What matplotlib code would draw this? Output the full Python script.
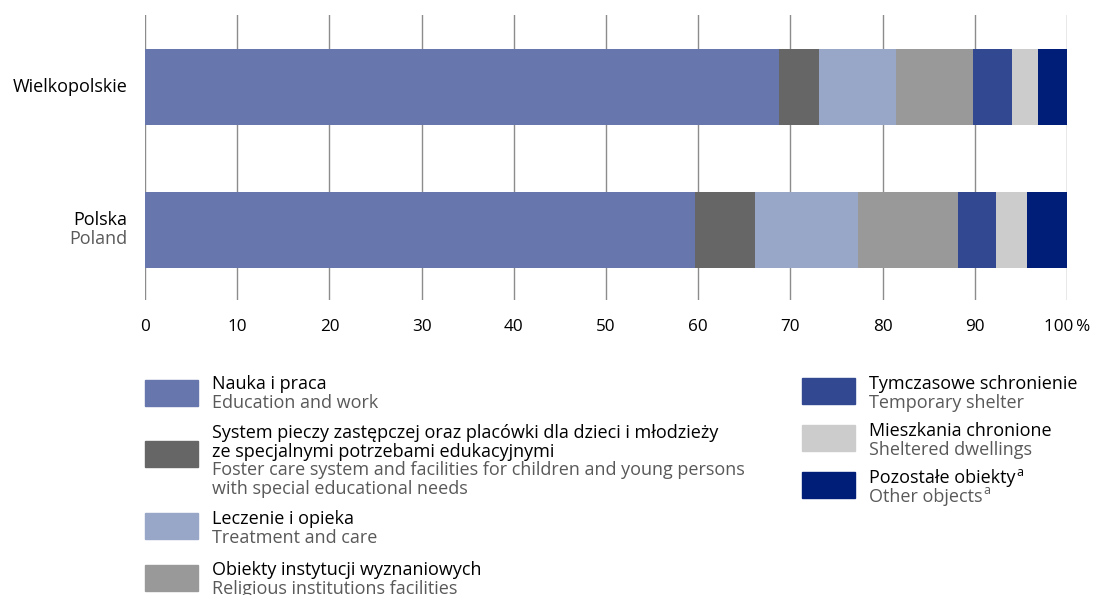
import matplotlib.pyplot as plt
from matplotlib.patches import Rectangle

plt.rcParams['font.family'] = ['Open Sans', 'DejaVu Sans']

regions = ["Wielkopolskie", "Polska"]
regions_en = ["", "Poland"]

cat_pl = ["Nauka i praca",
          "System pieczy zastępczej oraz placówki dla dzieci i młodzieży\nze specjalnymi potrzebami edukacyjnymi",
          "Leczenie i opieka",
          "Obiekty instytucji wyznaniowych",
          "Tymczasowe schronienie",
          "Mieszkania chronione",
          "Pozostałe obiekty"]
cat_en = ["Education and work",
          "Foster care system and facilities for children and young persons\nwith special educational needs",
          "Treatment and care",
          "Religious institutions facilities",
          "Temporary shelter",
          "Sheltered dwellings",
          "Other objects"]
footnote = [None, None, None, None, None, None, "a"]

wielkopolskie = [68.8, 4.3, 8.4, 8.3, 4.2, 2.9, 3.1]
polska = [59.7, 6.5, 11.1, 10.9, 4.1, 3.4, 4.3]

colors = ["#6777ae", "#666666", "#98a6c8", "#999999", "#324891", "#cccccc", "#001d77"]

ticks = [0, 10, 20, 30, 40, 50, 60, 70, 80, 90, 100]
tick_labels = ["0", "10", "20", "30", "40", "50", "60", "70", "80", "90", "100\u2009%"]

W, H = 1099, 595
fs = 13
fig = plt.figure(figsize=(W / 100, H / 100), dpi=100)
ax = fig.add_axes([145 / W, 1 - 300 / H, (1067 - 145) / W, 285 / H])

for t in ticks:
    ax.axvline(t, color="#8c8c8c", lw=1, zorder=0)

data = [wielkopolskie, polska]
for i, vals in enumerate(data):
    left = 0
    for v, c in zip(vals, colors):
        ax.barh(i, v, left=left, height=0.53, color=c, zorder=2)
        left += v

ax.set_xlim(0, 100)
ax.set_ylim(1.49, -0.503)
for s in ax.spines.values():
    s.set_visible(False)
ax.set_yticks([])
ax.set_xticks(ticks)
ax.set_xticklabels(tick_labels, fontsize=12.3)
ax.tick_params(axis="x", length=0, pad=14)

# region labels
ax.text(-1.9, 0, regions[0], ha="right", va="center", fontsize=fs, color="black")
ax.text(-1.9, 0.93, regions[1], ha="right", va="center", fontsize=fs, color="black")
ax.text(-1.9, 1.065, regions_en[1], ha="right", va="center", fontsize=fs, color="#595959")

# legend
def fx(x):
    return x / W

def fy(y):
    return 1 - y / H

renderer = fig.canvas.get_renderer()
items = [(145, 212, 380, 382), (145, 212, 441, 431), (145, 212, 513, 517), (145, 212, 565, 568),
         (802, 869, 378, 382), (802, 869, 425, 429), (802, 869, 472, 476)]
for k, (px, tx, py, ty) in enumerate(items):
    fig.patches.append(Rectangle((fx(px), fy(py + 26)), 53 / W, 26 / H,
                                 transform=fig.transFigure, color=colors[k]))
    lines = [(s, "black") for s in cat_pl[k].split("\n")] + \
            [(s, "#595959") for s in cat_en[k].split("\n")]
    for j, (s, c) in enumerate(lines):
        t = fig.text(fx(tx), fy(ty + 18.7 * j), s, ha="left", va="center_baseline",
                     fontsize=fs, color=c)
        if footnote[k]:
            x1 = t.get_window_extent(renderer).x1
            fig.text(x1 / W + 1 / W, fy(ty + 18.7 * j - 5.5), footnote[k], ha="left",
                     va="center_baseline", fontsize=9, color=c)

fig.savefig("out.png", dpi=100)
